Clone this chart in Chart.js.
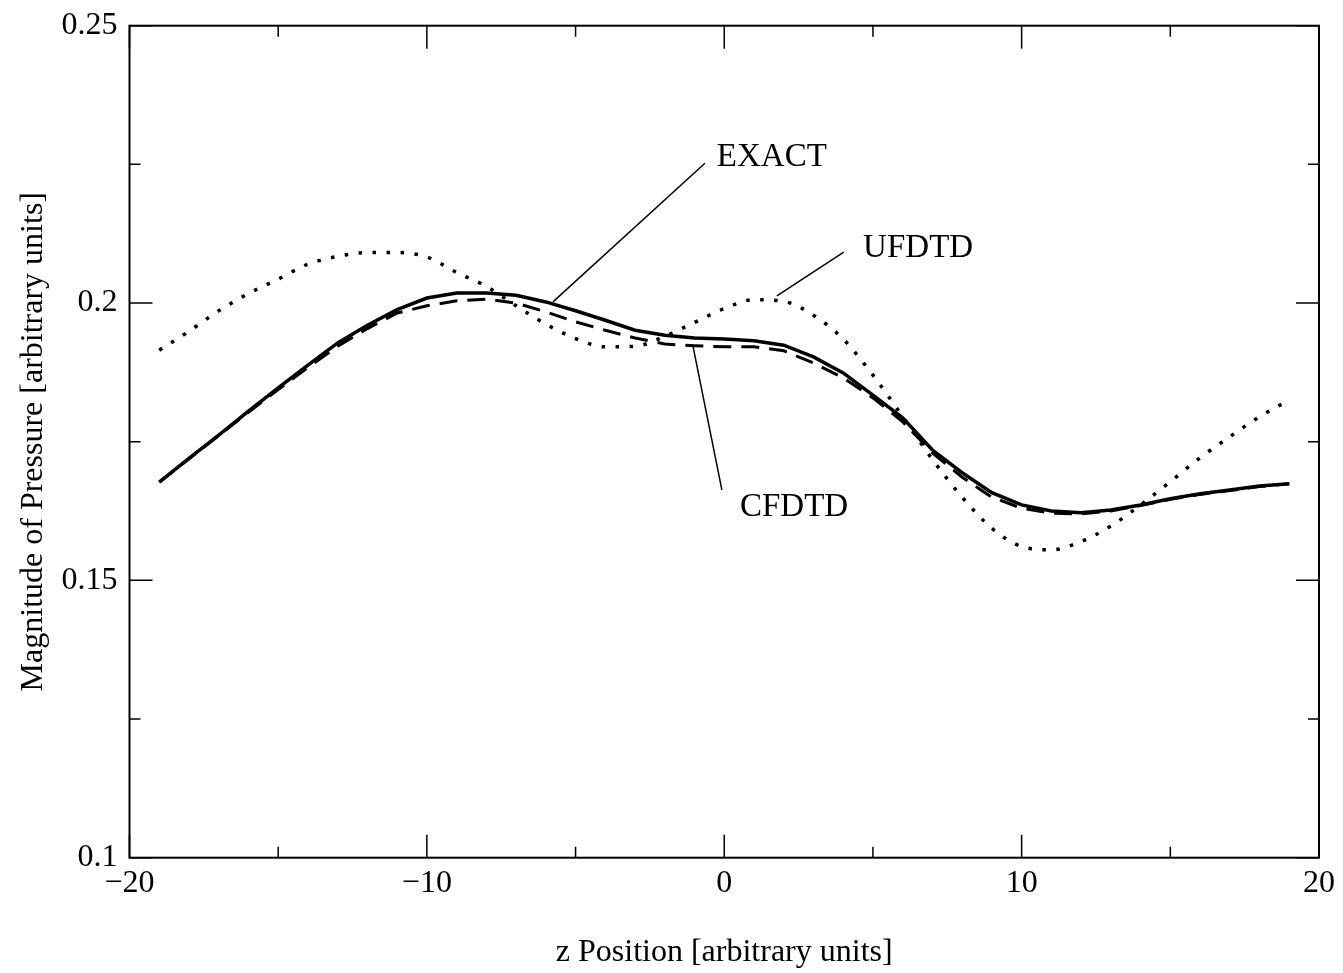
<!DOCTYPE html>
<html>
<head>
<meta charset="utf-8">
<script src="https://cdn.jsdelivr.net/npm/chart.js@4.4.1/dist/chart.umd.min.js"></script>
<style>
  html, body { margin: 0; padding: 0; background: #fff; }
  canvas { display: block; }
</style>
</head>
<body>
<canvas id="chart" width="1343" height="973"></canvas>
<script>
// z positions (grid points)
const positions = [-19, -18, -17, -16, -15, -14, -13, -12, -11, -10, -9, -8, -7, -6, -5, -4, -3, -2, -1, 0,
  1, 2, 3, 4, 5, 6, 7, 8, 9, 10, 11, 12, 13, 14, 15, 16, 17, 18, 19]

const exact = [0.1677, 0.1720, 0.1762, 0.1805, 0.1847, 0.1888, 0.1928, 0.1960, 0.1988, 0.2009,
  0.2018, 0.2018, 0.2014, 0.2002, 0.1986, 0.1969, 0.1951, 0.1942, 0.1937, 0.1935,
  0.1932, 0.1924, 0.1903, 0.1874, 0.1834, 0.1793, 0.1735, 0.1694, 0.1658, 0.1636,
  0.1625, 0.1622, 0.1627, 0.1636, 0.1647, 0.1656, 0.1663, 0.1670, 0.1674]

const cfdtd = [0.1677, 0.1719, 0.1761, 0.1803, 0.1844, 0.1884, 0.1922, 0.1954, 0.1982, 0.1995,
  0.2004, 0.2007, 0.2000, 0.1984, 0.1966, 0.1951, 0.1937, 0.1926, 0.1923, 0.1921,
  0.1921, 0.1914, 0.1892, 0.1865, 0.1829, 0.1786, 0.1730, 0.1686, 0.1650, 0.1630,
  0.1621, 0.1620, 0.1625, 0.1635, 0.1646, 0.1655, 0.1662, 0.1669, 0.1674]

const ufdtd = [0.1915, 0.1949, 0.1986, 0.2017, 0.2043, 0.2070, 0.2084, 0.2091, 0.2091, 0.2083,
  0.2055, 0.2030, 0.1995, 0.1962, 0.1936, 0.1921, 0.1922, 0.1940, 0.1965, 0.1990,
  0.2006, 0.2003, 0.1978, 0.1935, 0.1870, 0.1795, 0.1718, 0.1650, 0.1594, 0.1561,
  0.1555, 0.1570, 0.1598, 0.1636, 0.1678, 0.1721, 0.1759, 0.1795, 0.1825]

const xTicks = [-20, -10, 0, 10, 20]
const xMinorTicks = [-15, -5, 5, 15]
const yTicks = [0.1, 0.15, 0.2, 0.25]
const yMinorTicks = [0.125, 0.175, 0.225]

// callouts: label, text anchor [x, y], leader line from, leader line to
const callouts = [
  { text: 'EXACT', at: [-0.25, 0.2263], from: [-0.65, 0.2252], to: [-5.76, 0.2002] },
  { text: 'UFDTD', at: [4.67, 0.2099], from: [4.02, 0.2092], to: [1.77, 0.2013] },
  { text: 'CFDTD', at: [0.53, 0.1631], from: [-0.08, 0.1663], to: [-1.05, 0.1922] }
]

const FONT = 'Liberation Serif'
const toPoints = arr => positions.map((x, i) => ({ x, y: arr[i] }))
const fmtNum = v => String(Number(v.toFixed(3))).replace('-', '\u2212')

const frameTicks = {
  id: 'frameTicks',
  afterDraw(chart) {
    const { ctx, chartArea: a, scales: { x, y } } = chart
    ctx.save()
    ctx.strokeStyle = '#000'
    ctx.lineWidth = 2
    ctx.strokeRect(a.left, a.top, a.right - a.left, a.bottom - a.top)
    ctx.lineWidth = 1.5
    ctx.beginPath()
    const vTick = (v, len) => {
      const px = x.getPixelForValue(v)
      ctx.moveTo(px, a.bottom); ctx.lineTo(px, a.bottom - len)
      ctx.moveTo(px, a.top); ctx.lineTo(px, a.top + len)
    }
    const hTick = (v, len) => {
      const py = y.getPixelForValue(v)
      ctx.moveTo(a.left, py); ctx.lineTo(a.left + len, py)
      ctx.moveTo(a.right, py); ctx.lineTo(a.right - len, py)
    }
    xTicks.forEach(v => vTick(v, 23))
    xMinorTicks.forEach(v => vTick(v, 11))
    yTicks.forEach(v => hTick(v, 23))
    yMinorTicks.forEach(v => hTick(v, 11))
    ctx.stroke()
    ctx.restore()
  }
}

const calloutPlugin = {
  id: 'callouts',
  afterDatasetsDraw(chart) {
    const { ctx, scales: { x, y } } = chart
    ctx.save()
    ctx.strokeStyle = '#000'
    ctx.fillStyle = '#000'
    ctx.lineWidth = 1.5
    ctx.font = '33px "' + FONT + '"'
    ctx.textAlign = 'left'
    ctx.textBaseline = 'middle'
    callouts.forEach(c => {
      ctx.beginPath()
      ctx.moveTo(x.getPixelForValue(c.from[0]), y.getPixelForValue(c.from[1]))
      ctx.lineTo(x.getPixelForValue(c.to[0]), y.getPixelForValue(c.to[1]))
      ctx.stroke()
      ctx.fillText(c.text, x.getPixelForValue(c.at[0]), y.getPixelForValue(c.at[1]))
    })
    ctx.restore()
  }
}

const ctx = document.getElementById('chart').getContext('2d')
new Chart(ctx, {
  type: 'line',
  data: {
    datasets: [
      {
        label: 'EXACT',
        data: toPoints(exact),
        borderColor: '#000',
        borderWidth: 3.5,
        pointRadius: 0,
        tension: 0
      },
      {
        label: 'CFDTD',
        data: toPoints(cfdtd),
        borderColor: '#000',
        borderWidth: 3,
        borderDash: [18, 10],
        pointRadius: 0,
        tension: 0
      },
      {
        label: 'UFDTD',
        data: toPoints(ufdtd),
        borderColor: '#000',
        borderWidth: 3.5,
        borderDash: [3.5, 10.5],
        borderCapStyle: 'butt',
        pointRadius: 0,
        cubicInterpolationMode: 'monotone'
      }
    ]
  },
  options: {
    responsive: false,
    animation: false,
    devicePixelRatio: 1,
    layout: { padding: { top: 25.7, right: 24, left: 0, bottom: 0 } },
    plugins: {
      legend: { display: false },
      tooltip: { enabled: false }
    },
    scales: {
      x: {
        type: 'linear',
        min: -20,
        max: 20,
        grid: { display: false, drawTicks: false },
        border: { display: false },
        ticks: {
          stepSize: 10,
          maxRotation: 0,
          padding: 7,
          color: '#000',
          font: { family: FONT, size: 32 },
          callback: v => fmtNum(v)
        },
        title: {
          display: true,
          text: 'z Position [arbitrary units]',
          color: '#000',
          font: { family: FONT, size: 32 },
          padding: { top: 0, bottom: 1 }
        },
        afterFit: s => { s.height = 115.3; s.paddingLeft = 0; s.paddingRight = 0 }
      },
      y: {
        min: 0.1,
        max: 0.25,
        grid: { display: false, drawTicks: false },
        border: { display: false },
        ticks: {
          stepSize: 0.05,
          padding: 12,
          color: '#000',
          font: { family: FONT, size: 32 },
          callback: v => fmtNum(v)
        },
        title: {
          display: true,
          text: 'Magnitude of Pressure [arbitrary units]',
          color: '#000',
          font: { family: FONT, size: 32 },
          padding: { top: 14, bottom: 0 }
        },
        afterFit: s => { s.width = 129.5; s.paddingTop = 0; s.paddingBottom = 0 }
      }
    }
  },
  plugins: [frameTicks, calloutPlugin]
})
</script>
</body>
</html>
